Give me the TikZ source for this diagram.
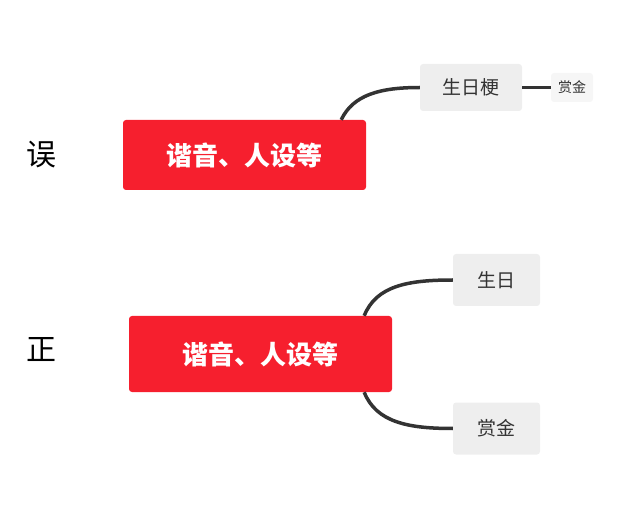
\documentclass[tikz,border=0pt]{standalone}
\usepackage{fontspec}
\setmainfont{Noto Sans CJK SC}
\usetikzlibrary{positioning}
\definecolor{topicred}{HTML}{F61F2E}
\definecolor{subgray}{HTML}{EEEEEE}
\definecolor{linegray}{HTML}{333333}
\tikzset{
  topic/.style={fill=topicred,text=white,rounded corners=3pt,font=\fontsize{26}{30}\selectfont\bfseries,inner sep=0pt},
  sub/.style={fill=subgray,text=linegray,rounded corners=3pt,font=\fontsize{19}{22}\selectfont,inner sep=0pt},
  link/.style={draw=linegray,line width=3.5pt}
}
\begin{document}
\begin{tikzpicture}[x=1pt,y=-1pt]
  \useasboundingbox (0,0) rectangle (633,524);
  % upper: wrong
  \node[font=\fontsize{30}{34}\selectfont] (wrong) at (42,155) {误};
  \node[topic,minimum width=243pt,minimum height=70pt] (red1) at (244.5,155) {谐音、人设等};
  \node[sub,minimum width=102pt,minimum height=47pt] (bday1) at (471,87.5) {生日梗};
  \node[fill=subgray!50,rounded corners=3pt,inner sep=0pt,minimum width=42pt,minimum height=29pt,
        font=\fontsize{14}{16}\selectfont,text=linegray] (bounty1) at (572,87.5) {赏金};
  \draw[link] ([xshift=-25pt]red1.north east) .. controls +(12,-25) and +(-40,0) .. (bday1.west);
  \draw[link] (bday1.east) -- (bounty1.west);
  % lower: right
  \node[font=\fontsize{30}{34}\selectfont] (right) at (42,350) {正};
  \node[topic,minimum width=263pt,minimum height=76pt] (red2) at (260.5,354) {谐音、人设等};
  \node[sub,minimum width=87pt,minimum height=52pt] (bday2) at (496.5,280) {生日};
  \node[sub,minimum width=87pt,minimum height=52pt] (bounty2) at (496.5,428.5) {赏金};
  \draw[link] ([xshift=-28pt]red2.north east) .. controls +(12,-30) and +(-45,0) .. (bday2.west);
  \draw[link] ([xshift=-28pt]red2.south east) .. controls +(12,30) and +(-45,0) .. (bounty2.west);
\end{tikzpicture}
\end{document}
